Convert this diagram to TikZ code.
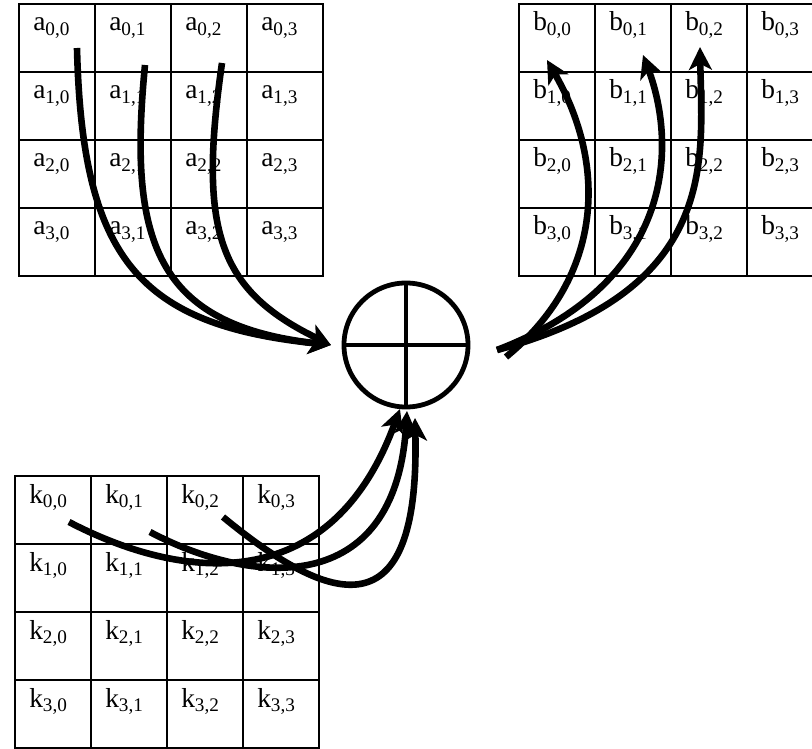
\documentclass[tikz,border=0pt]{standalone}
\usepackage{fontspec}
\setmainfont{Liberation Serif}
\usepackage{tikz}
\usetikzlibrary{calc,arrows.meta}

\begin{document}
\begin{tikzpicture}[x=0.025cm,y=-0.025cm,
    cell/.style={draw,line width=0.05cm,minimum width=1.9cm,minimum height=1.7cm,
        inner sep=0,outer sep=0,anchor=north west},
    entry/.style={anchor=base west,inner sep=0,font=\fontsize{19.5}{23}\selectfont},
    flow/.style={line width=0.165cm,-{Stealth[length=0.57cm,width=0.57cm,inset=0.15cm]}},
    xorop/.style={draw,circle,line width=0.12cm,minimum size=3.1cm,inner sep=0,outer sep=0}]
    \clip (0,0) rectangle (812,749);
    % the three 4x4 blocks
    \foreach \m/\x/\y in {a/19/4,b/519/4,k/15/476}
        \foreach \r in {0,...,3}
            \foreach \c in {0,...,3} {
                \node[cell] (\m-\r-\c) at (\x+76*\c,\y+68*\r) {};
                \node[entry] (\m-\r-\c-t) at ($(\m-\r-\c.north west)+(14,27)$)
                    {\m\textsubscript{\r,\c}};
            }
    % xor
    \node[xorop] (plus) at (406,345) {};
    \draw[line width=0.11cm] (plus.north) -- (plus.south) (plus.west) -- (plus.east);
    % ends of the connectors
    \coordinate (a-src-0) at (77,48);
    \coordinate (a-src-1) at (145,65);
    \coordinate (a-src-2) at (222,63);
    \coordinate (in-w) at ($(plus.west)+(-13,0)$);
    \coordinate (out-1) at (506,357);
    \coordinate (out-2) at (497,350);
    \coordinate (b-dst-0) at (547,60);
    \coordinate (b-dst-1) at (643,55);
    \coordinate (b-dst-2) at (700,47);
    \coordinate (k-src-0) at (69,522);
    \coordinate (k-src-1) at (150,532);
    \coordinate (k-src-2) at (223,517);
    \coordinate (in-s0) at (400,409);
    \coordinate (in-s1) at (407,411);
    \coordinate (in-s2) at (415,418);
    % a into the xor
    \draw[flow] (a-src-0) .. controls (82,260) and (140,325) .. (in-w);
    \draw[flow] (a-src-1) .. controls (128,240) and (155,325) .. (in-w);
    \draw[flow] (a-src-2) .. controls (198,230) and (218,290) .. (in-w);
    % xor out to b
    \draw[flow] (out-1) .. controls (600,280) and (610,170) .. (b-dst-0);
    \draw[flow] (out-2) .. controls (680,280) and (675,140) .. (b-dst-1);
    \draw[flow] (out-2) .. controls (720,290) and (702,160) .. (b-dst-2);
    % k into the xor
    \draw[flow] (k-src-0) .. controls (180,580) and (330,600) .. (in-s0);
    \draw[flow] (k-src-1) .. controls (250,585) and (395,600) .. (in-s1);
    \draw[flow] (k-src-2) .. controls (330,605) and (420,635) .. (in-s2);
\end{tikzpicture}
\end{document}
